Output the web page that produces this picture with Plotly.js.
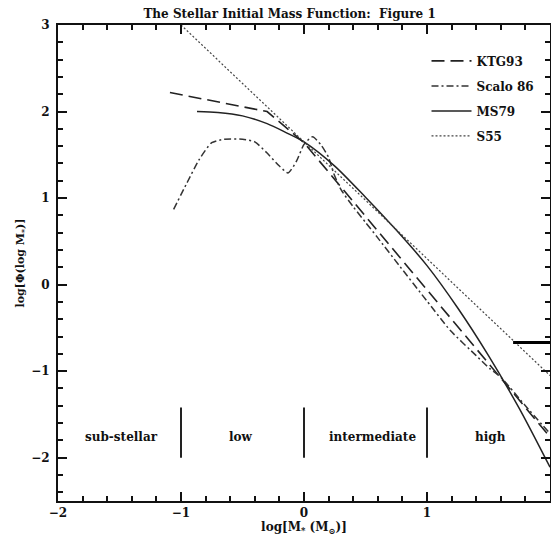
<!DOCTYPE html>
<html>
<head>
<meta charset="utf-8">
<script src="https://cdn.plot.ly/plotly-3.0.1.min.js"></script>
<style>html,body{margin:0;padding:0;background:#fff;}#chart{width:551px;height:541px;}</style>
</head>
<body>
<div id="chart"></div>
<script>
// KTG93 (Kroupa, Tout & Gilmore 1993)
const ktgX = [-1.09, -0.30, 0.0, 2.0];
const ktgY = [2.22, 2.00, 1.64, -1.76];
// Scalo 86
const scaloX = [-1.06, -0.95, -0.85, -0.75, -0.65, -0.5, -0.4, -0.3, -0.2, -0.13, -0.06, 0.0, 0.07, 0.14, 0.2, 0.24, 0.3, 0.4, 0.5, 0.6, 0.78, 1.0, 1.19, 1.4, 1.51, 1.6, 1.8, 2.0];
const scaloY = [0.87, 1.18, 1.45, 1.64, 1.68, 1.68, 1.65, 1.52, 1.37, 1.29, 1.43, 1.62, 1.71, 1.61, 1.47, 1.29, 1.10, 0.90, 0.72, 0.54, 0.21, -0.19, -0.53, -0.82, -0.97, -1.07, -1.40, -1.72];
// MS79 (Miller & Scalo 1979)
const msX = [-0.87, -0.7, -0.5, -0.3, -0.15, 0.0, 0.25, 0.5, 0.75, 1.0, 1.25, 1.5, 1.75, 2.0];
const msY = [2.00, 1.99, 1.95, 1.86, 1.76, 1.65, 1.37, 1.01, 0.63, 0.22, -0.27, -0.82, -1.43, -2.11];
// S55 (Salpeter 1955)
const s55X = [-1.0, 2.0];
const s55Y = [3.0, -1.05];
// short horizontal marker at right
const markX = [1.70, 2.0];
const markY = [-0.67, -0.67];
// mass-range dividers and labels
const dividerX = [-1, 0, 1];
const dividerY = [-1.42, -2.0];
const rangeLabels = ["sub-stellar", "low", "intermediate", "high"];
const rangeLabelX = [-1.48, -0.51, 0.56, 1.515];
const rangeLabelY = -1.76;

const FONT = "DejaVu Serif";
const traces = [
  {x: ktgX, y: ktgY, name: "KTG93", mode: "lines", legendgroup: "a",
   line: {color: "#222", width: 1.6, dash: "13px,6px"}},
  {x: scaloX, y: scaloY, name: "Scalo 86", mode: "lines", legendgroup: "b",
   line: {color: "#333", width: 1.5, dash: "7px,3px,2px,3px", shape: "spline", smoothing: 0.6}},
  {x: msX, y: msY, name: "MS79", mode: "lines", legendgroup: "c",
   line: {color: "#222", width: 1.5, shape: "spline", smoothing: 0.8}},
  {x: s55X, y: s55Y, name: "S55", mode: "lines", legendgroup: "d",
   line: {color: "#444", width: 1.2, dash: "2px,2px"}},
  {x: markX, y: markY, mode: "lines", showlegend: false, hoverinfo: "skip",
   line: {color: "#000", width: 3}}
];

const shapes = dividerX.map(v => ({type: "line", xref: "x", yref: "y",
  x0: v, x1: v, y0: dividerY[0], y1: dividerY[1], line: {color: "#222", width: 2}}));

const annotations = rangeLabels.map((t, i) => ({text: "<b>" + t + "</b>", x: rangeLabelX[i], y: rangeLabelY,
  xref: "x", yref: "y", showarrow: false, font: {family: FONT, size: 12, color: "#111"}}));

const axisCommon = {
  showgrid: false, zeroline: false, showline: true, linecolor: "#111", linewidth: 2,
  mirror: "ticks", ticks: "inside", ticklen: 9, tickwidth: 2, tickcolor: "#111",
  tickfont: {family: FONT, size: 12, color: "#111", weight: "bold"},
  minor: {ticks: "inside", ticklen: 5, tickwidth: 2, tickcolor: "#111", dtick: 0.2, showgrid: false}
};

const layout = {
  width: 551, height: 541,
  margin: {l: 58, r: 1, t: 25, b: 40},
  paper_bgcolor: "#fff", plot_bgcolor: "#fff",
  title: {text: "<b>The Stellar Initial Mass Function:  Figure 1</b>", x: 0.5256, xref: "container",
    y: 1 - 14/541, yref: "container", yanchor: "middle", xanchor: "center",
    font: {family: FONT, size: 12, color: "#111"}},
  xaxis: Object.assign({}, axisCommon, {range: [-2, 2], tickvals: [-2, -1, 0, 1, 2],
    ticktext: ["\u22122", "\u22121", "0", "1", "2"],
    title: {text: "<b>log[M<sub>*</sub> (M<sub>\u2299</sub>)]</b>", standoff: 2,
      font: {family: FONT, size: 12, color: "#111"}}}),
  yaxis: Object.assign({}, axisCommon, {range: [-2.5, 3], tickvals: [-2, -1, 0, 1, 2, 3],
    ticktext: ["\u22122", "\u22121", "0", "1", "2", "3"], ticklabelstandoff: 4,
    title: {text: "<b>log[\u03A6(log M<sub>*</sub>)]</b>", standoff: 4,
      font: {family: FONT, size: 11, color: "#111"}}}),
  showlegend: true,
  legend: {x: 0.749, y: 0.955, xanchor: "left", yanchor: "top", bgcolor: "rgba(0,0,0,0)",
    font: {family: FONT, size: 12, color: "#111", weight: "bold"}, tracegroupgap: 6, itemwidth: 40},
  shapes: shapes,
  annotations: annotations
};

Plotly.newPlot("chart", traces, layout, {displayModeBar: false, staticPlot: true});
</script>
</body>
</html>
